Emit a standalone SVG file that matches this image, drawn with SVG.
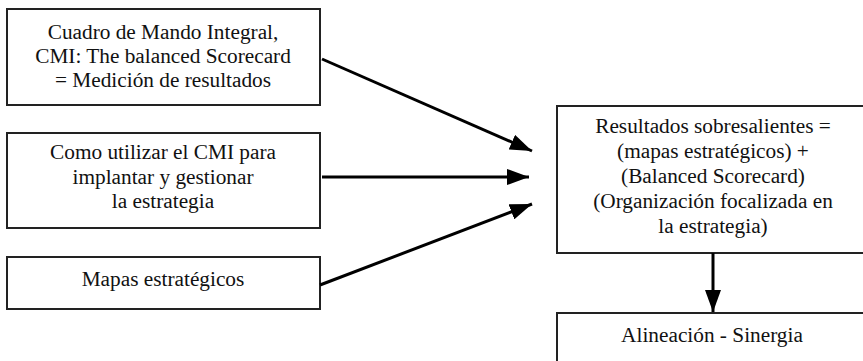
<svg xmlns="http://www.w3.org/2000/svg" width="863" height="361" viewBox="0 0 863 361">
  <style>
    .box { fill: #ffffff; stroke: #222222; stroke-width: 2; }
    .label { font-family: "Liberation Serif", "Times New Roman", serif; font-size: 21.3px; fill: #111111; text-anchor: middle; }
    .link { stroke: #000000; stroke-width: 3; fill: none; marker-end: url(#arrow); }
  </style>
  <defs>
    <marker id="arrow" markerUnits="userSpaceOnUse" markerWidth="22" markerHeight="16" viewBox="0 0 22 16" refX="22" refY="8" orient="auto">
      <path d="M0,0 L22,8 L0,16 Z" fill="#000000"/>
    </marker>
  </defs>

  <g id="node-cmi">
    <rect class="box" x="7" y="9" width="313" height="96"/>
    <text class="label" x="163" y="39">Cuadro de Mando Integral,</text>
    <text class="label" x="163" y="63">CMI: The balanced Scorecard</text>
    <text class="label" x="163" y="87">= Medición de resultados</text>
  </g>

  <g id="node-como">
    <rect class="box" x="7" y="133" width="313" height="95"/>
    <text class="label" x="163" y="159">Como utilizar el CMI para</text>
    <text class="label" x="163" y="184">implantar y gestionar</text>
    <text class="label" x="163" y="208">la estrategia</text>
  </g>

  <g id="node-mapas">
    <rect class="box" x="7" y="257" width="313" height="52"/>
    <text class="label" x="163" y="286">Mapas estratégicos</text>
  </g>

  <g id="node-resultados">
    <rect class="box" x="557" y="106" width="320" height="147"/>
    <text class="label" x="713" y="133">Resultados sobresalientes =</text>
    <text class="label" x="713" y="158">(mapas estratégicos) +</text>
    <text class="label" x="713" y="183">(Balanced Scorecard)</text>
    <text class="label" x="713" y="208">(Organización focalizada en</text>
    <text class="label" x="713" y="233">la estrategia)</text>
  </g>

  <g id="node-alineacion">
    <rect class="box" x="557" y="313" width="320" height="60"/>
    <text class="label" x="712" y="342">Alineación - Sinergia</text>
  </g>

  <g id="connectors">
    <line class="link" x1="322" y1="59" x2="532" y2="151"/>
    <line class="link" x1="322" y1="177" x2="529" y2="177"/>
    <line class="link" x1="320" y1="285" x2="532" y2="204"/>
    <line class="link" x1="713" y1="253" x2="713" y2="312"/>
  </g>
</svg>
